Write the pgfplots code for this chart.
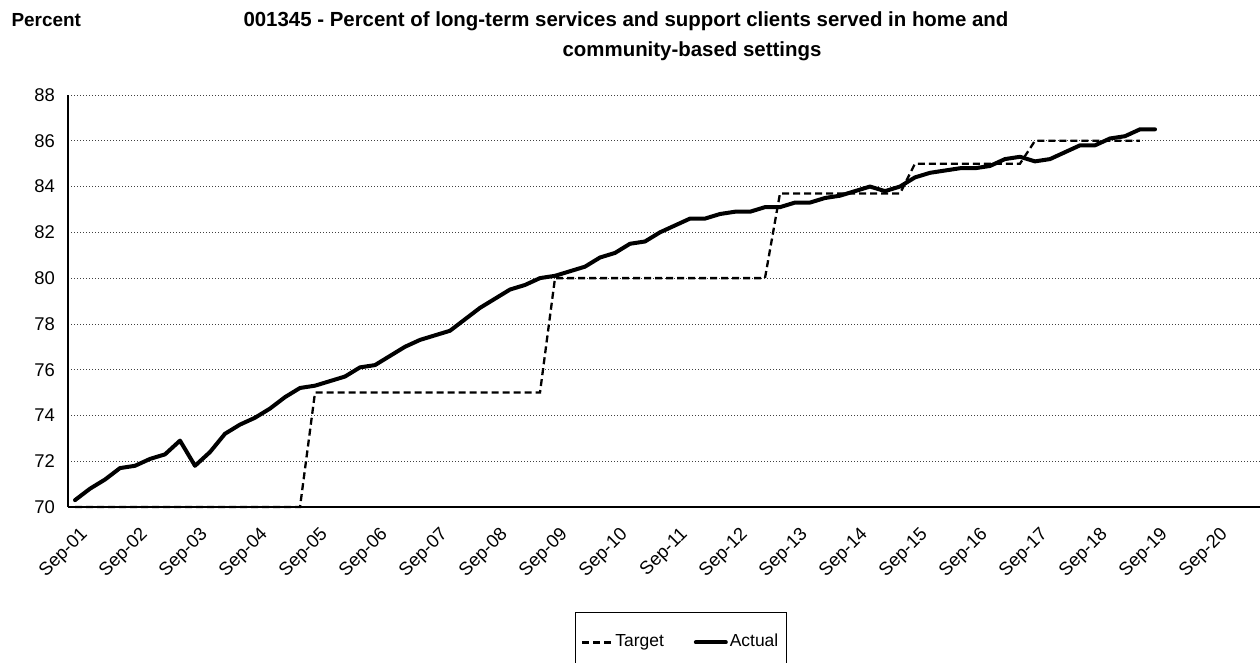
\documentclass[border=0pt]{standalone}
\usepackage{fontspec}
\setmainfont{Liberation Sans}
\usepackage{pgfplots}
\usepackage{pgfplotstable}
\pgfplotsset{compat=1.18}

\pgfplotstableread{
i v
0 70.3
1 70.8
2 71.2
3 71.7
4 71.8
5 72.1
6 72.3
7 72.9
8 71.8
9 72.4
10 73.2
11 73.6
12 73.9
13 74.3
14 74.8
15 75.2
16 75.3
17 75.5
18 75.7
19 76.1
20 76.2
21 76.6
22 77.0
23 77.3
24 77.5
25 77.7
26 78.2
27 78.7
28 79.1
29 79.5
30 79.7
31 80.0
32 80.1
33 80.3
34 80.5
35 80.9
36 81.1
37 81.5
38 81.6
39 82.0
40 82.3
41 82.6
42 82.6
43 82.8
44 82.9
45 82.9
46 83.1
47 83.1
48 83.3
49 83.3
50 83.5
51 83.6
52 83.8
53 84.0
54 83.8
55 84.0
56 84.4
57 84.6
58 84.7
59 84.8
60 84.8
61 84.9
62 85.2
63 85.3
64 85.1
65 85.2
66 85.5
67 85.8
68 85.8
69 86.1
70 86.2
71 86.5
72 86.5
}\actualtab

\pgfplotstableread{
i v
0 70
15 70
16 75
31 75
32 80
46 80
47 83.7
55 83.7
56 85
63 85
64 86
71 86
}\targettab

\begin{document}
\begin{tikzpicture}[x=1bp,y=1bp]
\begin{axis}[
  at={(68bp,156bp)}, anchor=south west,
  width=1192bp, height=412bp, scale only axis,
  xmin=-0.467, xmax=79, ymin=70, ymax=88,
  axis lines=left,
  axis line style={-, black, line width=1.4bp},
  ytick={70,72,...,88},
  xtick={0,4,...,76},
  xticklabels={Sep-01,Sep-02,Sep-03,Sep-04,Sep-05,Sep-06,Sep-07,Sep-08,Sep-09,Sep-10,Sep-11,Sep-12,Sep-13,Sep-14,Sep-15,Sep-16,Sep-17,Sep-18,Sep-19,Sep-20},
  major tick length=0pt,
  ymajorgrids,
  grid style={black!75, line width=0.7bp, dash pattern=on 1bp off 2bp},
  /pgf/number format/assume math mode=true,
  tick label style={font=\fontsize{18.5}{20}\selectfont},
  yticklabel style={anchor=east, inner sep=0pt, xshift=-13bp},
  xticklabel style={xshift=10bp, yshift=-25bp, rotate=45, anchor=east, inner sep=0pt},
  clip=false,
  legend style={at={(0.514,-0.2549)}, anchor=north, legend columns=2,
    draw=black, line width=0.8bp, font=\fontsize{17.5}{19}\selectfont,
    inner xsep=6bp, inner ysep=20bp,
    nodes={text height=12.5bp, text depth=3.5bp},
    /tikz/every odd column/.append style={column sep=0bp},
    /tikz/every even column/.append style={column sep=28bp}},
  legend cell align=left,
  legend image code/.code={\draw[#1] (0bp,0bp) -- (30bp,0bp);},
]
\addplot[black, line width=2.3bp, dash pattern=on 7bp off 4bp] table[x=i,y=v] {\targettab};
\addlegendentry{Target}
\addplot[black, line width=4bp, line join=round, line cap=round] table[x=i,y=v] {\actualtab};
\addlegendentry{Actual}
\end{axis}
\node[anchor=base west, font=\bfseries\fontsize{19}{21}\selectfont] at (8bp,636bp) {Percent};
\node[anchor=base, font=\bfseries\fontsize{20.5}{22}\selectfont] at (626bp,636bp) {001345 - Percent of long-term services and support clients served in home and};
\node[anchor=base, font=\bfseries\fontsize{20.5}{22}\selectfont] at (692bp,606bp) {community-based settings};
\pgfresetboundingbox
\useasboundingbox (0bp,0bp) rectangle (1260bp,663bp);
\end{tikzpicture}
\end{document}
